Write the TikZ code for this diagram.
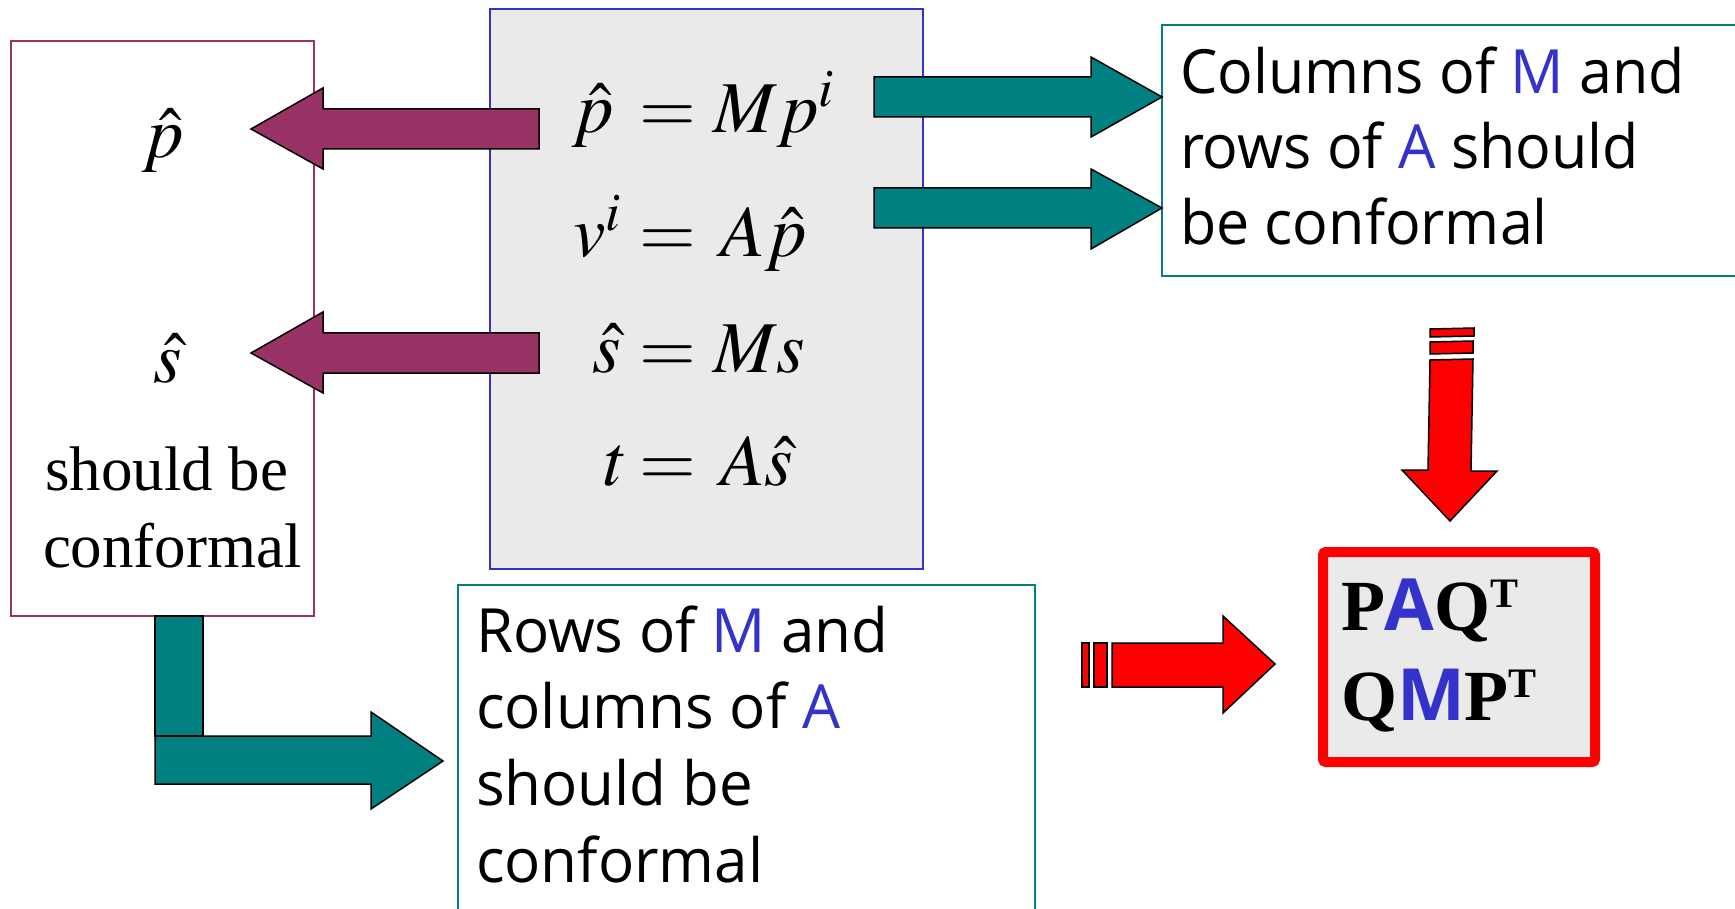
\documentclass[tikz,border=0pt]{standalone}
\usepackage{mathptmx}
\usepackage{fontspec}
\setmainfont{Liberation Serif}
\newfontfamily\sansA[FakeStretch=0.97]{Open Sans}
\newfontfamily\sansB[FakeStretch=0.985]{Open Sans}
\newfontfamily\sansP{Open Sans}
\definecolor{maroonc}{HTML}{993366}
\definecolor{bluec}{HTML}{3333CC}
\definecolor{tealc}{HTML}{008080}
\definecolor{grayc}{HTML}{EAEAEA}
\begin{document}
\begin{tikzpicture}[x=1pt,y=-1pt,
  txt/.style={inner sep=0pt, outer sep=0pt, anchor=base west},
  ctxt/.style={inner sep=0pt, outer sep=0pt, anchor=base},
  blockarrow/.style={draw=black, line width=1.5pt, line join=miter},
  tealarrow/.style={blockarrow, fill=tealc},
  maroonarrow/.style={blockarrow, fill=maroonc},
  redarrow/.style={blockarrow, fill=red},
  mathfont/.style={font=\fontsize{73}{80}\selectfont},
  serifbig/.style={font=\fontsize{63}{70}\selectfont},
  sanstop/.style={font=\sansA\fontsize{61}{70}\selectfont},
  sansbot/.style={font=\sansB\fontsize{61}{70}\selectfont},
  paqfont/.style={font=\fontsize{72}{80}\selectfont\bfseries}]
\useasboundingbox (0,0) rectangle (1735,909);
\fill[white] (0,0) rectangle (1735,909);

% boxes
\draw[maroonc, line width=1.5pt] (11,41) rectangle (314,616);
\draw[bluec, line width=1.5pt, fill=grayc] (490,9) rectangle (923,569);
\draw[tealc, line width=1.8pt] (1162,25) rectangle (1760,276);
\draw[tealc, line width=1.8pt] (458,585) rectangle (1035,930);
\draw[red, line width=10pt, fill=grayc, rounded corners=3pt] (1323,552) rectangle (1595,762);

% left box texts
\node[ctxt, mathfont] (lp) at (163,158) {$\hat{p}$};
\node[ctxt, mathfont] (ls) at (168,382) {$\hat{s}$};
\node[txt, serifbig] (l1) at (45,490) {should be};
\node[txt, serifbig] (l2) at (43,567) {conformal};

% equations
\node[ctxt, mathfont, anchor=base east] (e1l) at (614,133) {$\hat{p}$};
\node[ctxt, mathfont] (e1m) at (668,133) {$=$};
\node[txt, mathfont] (e1r) at (713,133) {$Mp^{i}$};
\node[ctxt, mathfont, anchor=base east] (e2l) at (621,257) {$v^{i}$};
\node[ctxt, mathfont] (e2m) at (668,257) {$=$};
\node[txt, mathfont] (e2r) at (720,257) {$A\hat{p}$};
\node[ctxt, mathfont, anchor=base east] (e3l) at (621,372) {$\hat{s}$};
\node[ctxt, mathfont] (e3m) at (668,372) {$=$};
\node[txt, mathfont] (e3r) at (713,372) {$Ms$};
\node[ctxt, mathfont, anchor=base east] (e4l) at (628,485) {$t$};
\node[ctxt, mathfont] (e4m) at (668,485) {$=$};
\node[txt, mathfont] (e4r) at (720,485) {$A\hat{s}$};

% top right text
\node[txt, sanstop] (t1) at (1180,94) {Columns of \textcolor{bluec}{M} and};
\node[txt, sanstop] (t2) at (1180,169) {rows of \textcolor{bluec}{A} should};
\node[txt, sanstop] (t3) at (1180,245) {be conformal};

% bottom text
\node[txt, sansbot] (b1) at (476,652) {Rows of \textcolor{bluec}{M} and};
\node[txt, sansbot] (b2) at (476,728) {columns of \textcolor{bluec}{A}};
\node[txt, sansbot] (b3) at (476,805) {should be};
\node[txt, sansbot] (b4) at (476,882) {conformal};

% PAQ box text
\node[txt, paqfont] (q1) at (1341,630) {P\textcolor{bluec}{\sansP\bfseries A}Q\raisebox{23pt}{\fontsize{42}{42}\selectfont T}};
\node[txt, paqfont] (q2) at (1341,720) {Q\textcolor{bluec}{\sansP\bfseries M}P\raisebox{23pt}{\fontsize{42}{42}\selectfont T}};

% maroon arrows
\draw[maroonarrow] (251,129) -- (323,88) -- (323,109) -- (539,109) -- (539,149) -- (323,149) -- (323,169) -- cycle;
\draw[maroonarrow] (251,353) -- (323,312) -- (323,333) -- (539,333) -- (539,373) -- (323,373) -- (323,393) -- cycle;

% teal arrows top
\draw[tealarrow] (874,77) -- (1091,77) -- (1091,57) -- (1162,97) -- (1091,137) -- (1091,117) -- (874,117) -- cycle;
\draw[tealarrow] (874,188) -- (1091,188) -- (1091,169) -- (1162,208) -- (1091,249) -- (1091,228) -- (874,228) -- cycle;

% bent teal arrow
\draw[tealarrow] (155,616) rectangle (203,736);
\draw[tealarrow] (155,736) -- (371,736) -- (371,712) -- (443,761) -- (371,809) -- (371,784) -- (155,784) -- cycle;

% red down arrow
\draw[redarrow] (1430,329) -- (1474,328) -- (1474,336) -- (1430,337) -- cycle;
\draw[redarrow] (1430,342) -- (1473,341) -- (1473,353) -- (1430,354) -- cycle;
\draw[redarrow] (1430,360) -- (1473,359) -- (1471,471) -- (1497,471) -- (1450,521) -- (1402,470) -- (1428,470) -- cycle;

% red right arrow
\draw[redarrow] (1082,643) rectangle (1089,687);
\draw[redarrow] (1094,643) rectangle (1107,687);
\draw[redarrow] (1112,643) -- (1223,643) -- (1223,616) -- (1275,664) -- (1223,713) -- (1223,687) -- (1112,687) -- cycle;
\end{tikzpicture}
\end{document}
